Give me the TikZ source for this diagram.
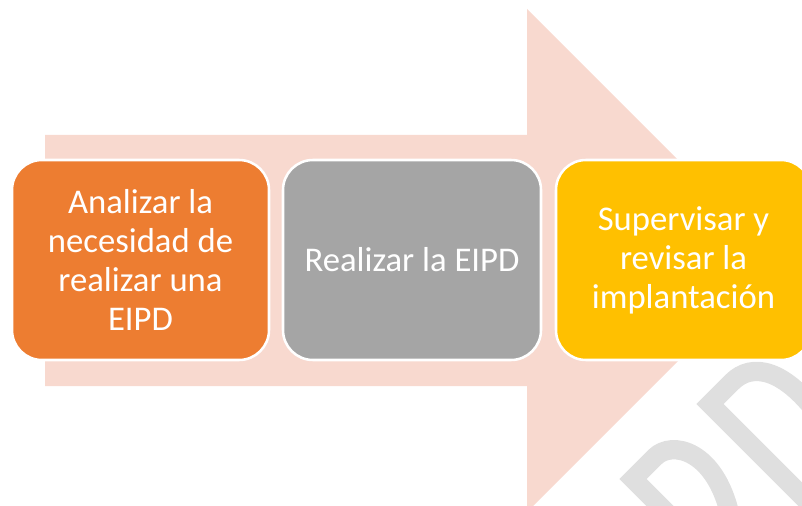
\documentclass[tikz,border=0pt]{standalone}
\usepackage{fontspec}
\setmainfont{Carlito}
\definecolor{arrowpink}{HTML}{F8D9CF}
\definecolor{boxorange}{HTML}{ED7D31}
\definecolor{boxgray}{HTML}{A5A5A5}
\definecolor{boxyellow}{HTML}{FFC000}
\definecolor{wmgray}{HTML}{DFDFDF}
\begin{document}
\begin{tikzpicture}[x=0.75pt,y=-0.75pt,
  stepbox/.style={draw=white, line width=1.9pt, rounded corners=22.5pt,
    minimum height=150pt, inner sep=0pt, align=center, text=white,
    font=\fontsize{26pt}{29.25pt}\selectfont},
  wm/.style={draw=wmgray, line width=14.5pt, line join=miter}]
\useasboundingbox (0,0) rectangle (802,506);
\clip (0,0) rectangle (802,506);
% watermark fragments
\draw[wm] (850,544) -- (710,404) -- (732,382) .. controls (752,362) and (785,368) .. (822,420);
\draw[wm] (773,619) -- (633,479) -- (655,457) .. controls (672,440) and (715,450) .. (730,515);
% big arrow
\fill[arrowpink] (45,135) -- (527,135) -- (527,9) -- (778.5,260.5) -- (527,512) -- (527,386) -- (45,386) -- cycle;
% boxes
\node[stepbox, fill=boxorange, minimum width=192.75pt] (s1) at (140.5,260)
  {Analizar la\\necesidad de\\realizar una\\EIPD};
\node[stepbox, fill=boxgray, minimum width=193.5pt] (s2) at (412,260)
  {Realizar la EIPD};
\node[stepbox, fill=boxyellow, minimum width=191.25pt] (s3) at (683.5,260)
  {Supervisar y\\revisar la\\implantación};
\end{tikzpicture}
\end{document}
